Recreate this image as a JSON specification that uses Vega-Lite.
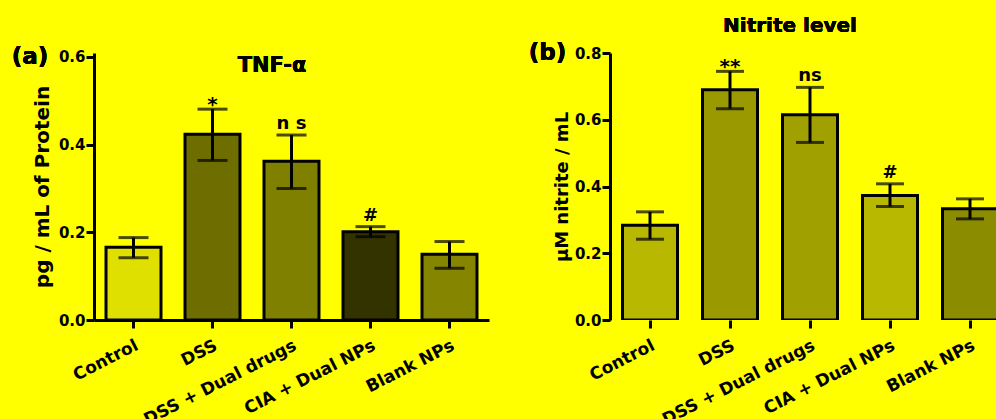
{
  "$schema": "https://vega.github.io/schema/vega-lite/v6.json",
  "background": "#FFFF00",
  "padding": {"left": 11, "top": 16, "right": 0, "bottom": 0},
  "spacing": 39,
  "resolve": {"scale": {"fill": "independent", "y": "independent", "x": "independent"}},
  "datasets": {
    "tnf": [
      {"group": "Control", "value": 0.166, "lo": 0.142, "hi": 0.188, "sig": ""},
      {"group": "DSS", "value": 0.424, "lo": 0.364, "hi": 0.481, "sig": "*"},
      {"group": "DSS + Dual drugs", "value": 0.362, "lo": 0.300, "hi": 0.422, "sig": "n s"},
      {"group": "CIA + Dual NPs", "value": 0.2015, "lo": 0.190, "hi": 0.213, "sig": "#"},
      {"group": "Blank NPs", "value": 0.150, "lo": 0.118, "hi": 0.179, "sig": ""}
    ],
    "nitrite": [
      {"group": "Control", "value": 0.284, "lo": 0.242, "hi": 0.324, "sig": ""},
      {"group": "DSS", "value": 0.690, "lo": 0.633, "hi": 0.745, "sig": "**"},
      {"group": "DSS + Dual drugs", "value": 0.615, "lo": 0.532, "hi": 0.697, "sig": "ns"},
      {"group": "CIA + Dual NPs", "value": 0.373, "lo": 0.340, "hi": 0.408, "sig": "#"},
      {"group": "Blank NPs", "value": 0.333, "lo": 0.303, "hi": 0.363, "sig": ""}
    ]
  },
  "hconcat": [
    {
      "width": 395,
      "height": 267,
      "data": {"name": "tnf"},
      "encoding": {
        "x": {
          "field": "group", "type": "nominal", "sort": null,
          "scale": {"paddingInner": 0.304, "paddingOuter": 0.152},
          "axis": {"title": null, "labelAngle": -27, "labelFontSize": 17, "labelAlign": "right", "labelBaseline": "top", "labelPadding": 9}
        }
      },
      "layer": [
        {
          "mark": {"type": "bar", "stroke": "black", "strokeWidth": 3},
          "encoding": {
            "y": {"field": "value", "type": "quantitative", "scale": {"domain": [0, 0.6091], "nice": false},
                  "axis": {"values": [0, 0.2, 0.4, 0.6], "format": ".1f", "title": "pg / mL of Protein", "titleFontSize": 20, "labelFontSize": 15, "labelPadding": 1, "titlePadding": 6}},
            "fill": {"field": "group", "type": "nominal", "sort": null, "legend": null,
                     "scale": {"domain": ["Control", "DSS", "DSS + Dual drugs", "CIA + Dual NPs", "Blank NPs"], "range": ["#E0E000", "#6E6E00", "#808000", "#333300", "#858500"]}}
          }
        },
        {
          "mark": {"type": "rule", "color": "black", "strokeWidth": 3},
          "encoding": {"y": {"field": "lo", "type": "quantitative", "scale": {"domain": [0, 0.6091], "nice": false}}, "y2": {"field": "hi"}}
        },
        {
          "mark": {"type": "tick", "color": "black", "size": 30, "thickness": 3},
          "encoding": {"y": {"field": "hi", "type": "quantitative", "scale": {"domain": [0, 0.6091], "nice": false}}}
        },
        {
          "mark": {"type": "tick", "color": "black", "size": 30, "thickness": 3},
          "encoding": {"y": {"field": "lo", "type": "quantitative", "scale": {"domain": [0, 0.6091], "nice": false}}}
        },
        {
          "transform": [{"filter": "datum.sig == '*' || datum.sig == '**'"}],
          "mark": {"type": "text", "font": "DejaVu Sans", "fontWeight": "bold", "fontSize": 20, "baseline": "alphabetic", "dy": 2, "color": "black"},
          "encoding": {"y": {"field": "hi", "type": "quantitative", "scale": {"domain": [0, 0.6091], "nice": false}}, "text": {"field": "sig"}}
        },
        {
          "transform": [{"filter": "datum.sig == '#' || datum.sig == 'n s' || datum.sig == 'ns'"}],
          "mark": {"type": "text", "font": "DejaVu Sans", "fontWeight": "bold", "fontSize": 18, "baseline": "alphabetic", "dy": -6, "color": "black"},
          "encoding": {"y": {"field": "hi", "type": "quantitative", "scale": {"domain": [0, 0.6091], "nice": false}}, "text": {"field": "sig"}}
        },
        {
          "mark": {"type": "text", "text": "TNF-α", "font": "DejaVu Sans", "fontWeight": "bold", "fontSize": 21, "baseline": "middle", "dx": -19.5, "color": "black"},
          "encoding": {"x": {"datum": "DSS + Dual drugs"}, "y": {"datum": 0.58, "type": "quantitative", "scale": {"domain": [0, 0.6091], "nice": false}}}
        },
        {
          "mark": {"type": "text", "text": "(a)", "font": "DejaVu Sans", "fontWeight": "bold", "fontSize": 23, "baseline": "middle", "dx": -103.5, "color": "black"},
          "encoding": {"x": {"datum": "Control"}, "y": {"datum": 0.6, "type": "quantitative", "scale": {"domain": [0, 0.6091], "nice": false}}}
        }
      ]
    },
    {
      "width": 386,
      "height": 267,
      "data": {"name": "nitrite"},
      "encoding": {
        "x": {
          "field": "group", "type": "nominal", "sort": null,
          "scale": {"range": [0, 400], "paddingInner": 0.3125, "paddingOuter": 0.15625},
          "axis": {"title": null, "domain": false, "labelAngle": -27, "labelFontSize": 17, "labelAlign": "right", "labelBaseline": "top", "labelPadding": 9}
        }
      },
      "layer": [
        {
          "mark": {"type": "bar", "stroke": "black", "strokeWidth": 3, "clip": true},
          "encoding": {
            "y": {"field": "value", "type": "quantitative", "scale": {"domain": [0, 0.8], "nice": false},
                  "axis": {"values": [0, 0.2, 0.4, 0.6, 0.8], "format": ".1f", "title": "µM nitrite / mL", "titleFontSize": 18, "labelFontSize": 15, "labelPadding": 1, "titlePadding": 3}},
            "fill": {"field": "group", "type": "nominal", "sort": null, "legend": null,
                     "scale": {"domain": ["Control", "DSS", "DSS + Dual drugs", "CIA + Dual NPs", "Blank NPs"], "range": ["#B8B800", "#9A9A00", "#A0A000", "#B8B800", "#8C8C00"]}}
          }
        },
        {
          "mark": {"type": "rule", "color": "black", "strokeWidth": 3},
          "encoding": {"y": {"datum": 0, "type": "quantitative", "scale": {"domain": [0, 0.8], "nice": false}}}
        },
        {
          "mark": {"type": "rule", "color": "black", "strokeWidth": 3},
          "encoding": {"y": {"field": "lo", "type": "quantitative", "scale": {"domain": [0, 0.8], "nice": false}}, "y2": {"field": "hi"}}
        },
        {
          "mark": {"type": "tick", "color": "black", "size": 28, "thickness": 3},
          "encoding": {"y": {"field": "hi", "type": "quantitative", "scale": {"domain": [0, 0.8], "nice": false}}}
        },
        {
          "mark": {"type": "tick", "color": "black", "size": 28, "thickness": 3},
          "encoding": {"y": {"field": "lo", "type": "quantitative", "scale": {"domain": [0, 0.8], "nice": false}}}
        },
        {
          "transform": [{"filter": "datum.sig == '*' || datum.sig == '**'"}],
          "mark": {"type": "text", "font": "DejaVu Sans", "fontWeight": "bold", "fontSize": 20, "baseline": "alphabetic", "dy": 2, "color": "black"},
          "encoding": {"y": {"field": "hi", "type": "quantitative", "scale": {"domain": [0, 0.8], "nice": false}}, "text": {"field": "sig"}}
        },
        {
          "transform": [{"filter": "datum.sig == '#' || datum.sig == 'n s' || datum.sig == 'ns'"}],
          "mark": {"type": "text", "font": "DejaVu Sans", "fontWeight": "bold", "fontSize": 18, "baseline": "alphabetic", "dy": -6, "color": "black"},
          "encoding": {"y": {"field": "hi", "type": "quantitative", "scale": {"domain": [0, 0.8], "nice": false}}, "text": {"field": "sig"}}
        },
        {
          "mark": {"type": "text", "text": "Nitrite level", "font": "DejaVu Sans", "fontWeight": "bold", "fontSize": 20, "baseline": "middle", "dx": -20, "color": "black"},
          "encoding": {"x": {"datum": "DSS + Dual drugs"}, "y": {"datum": 0.88, "type": "quantitative", "scale": {"domain": [0, 0.8], "nice": false}}}
        },
        {
          "mark": {"type": "text", "text": "(b)", "font": "DejaVu Sans", "fontWeight": "bold", "fontSize": 23, "baseline": "middle", "dx": -102.5, "color": "black"},
          "encoding": {"x": {"datum": "Control"}, "y": {"datum": 0.8, "type": "quantitative", "scale": {"domain": [0, 0.8], "nice": false}}}
        }
      ]
    }
  ],
  "config": {
    "font": "DejaVu Sans",
    "view": {"stroke": null},
    "axis": {
      "grid": false,
      "domainColor": "black", "domainWidth": 3,
      "tickColor": "black", "tickWidth": 3, "tickSize": 8,
      "labelFont": "DejaVu Sans", "labelFontWeight": "bold", "labelColor": "black",
      "titleFont": "DejaVu Sans", "titleFontWeight": "bold", "titleColor": "black"
    }
  }
}
